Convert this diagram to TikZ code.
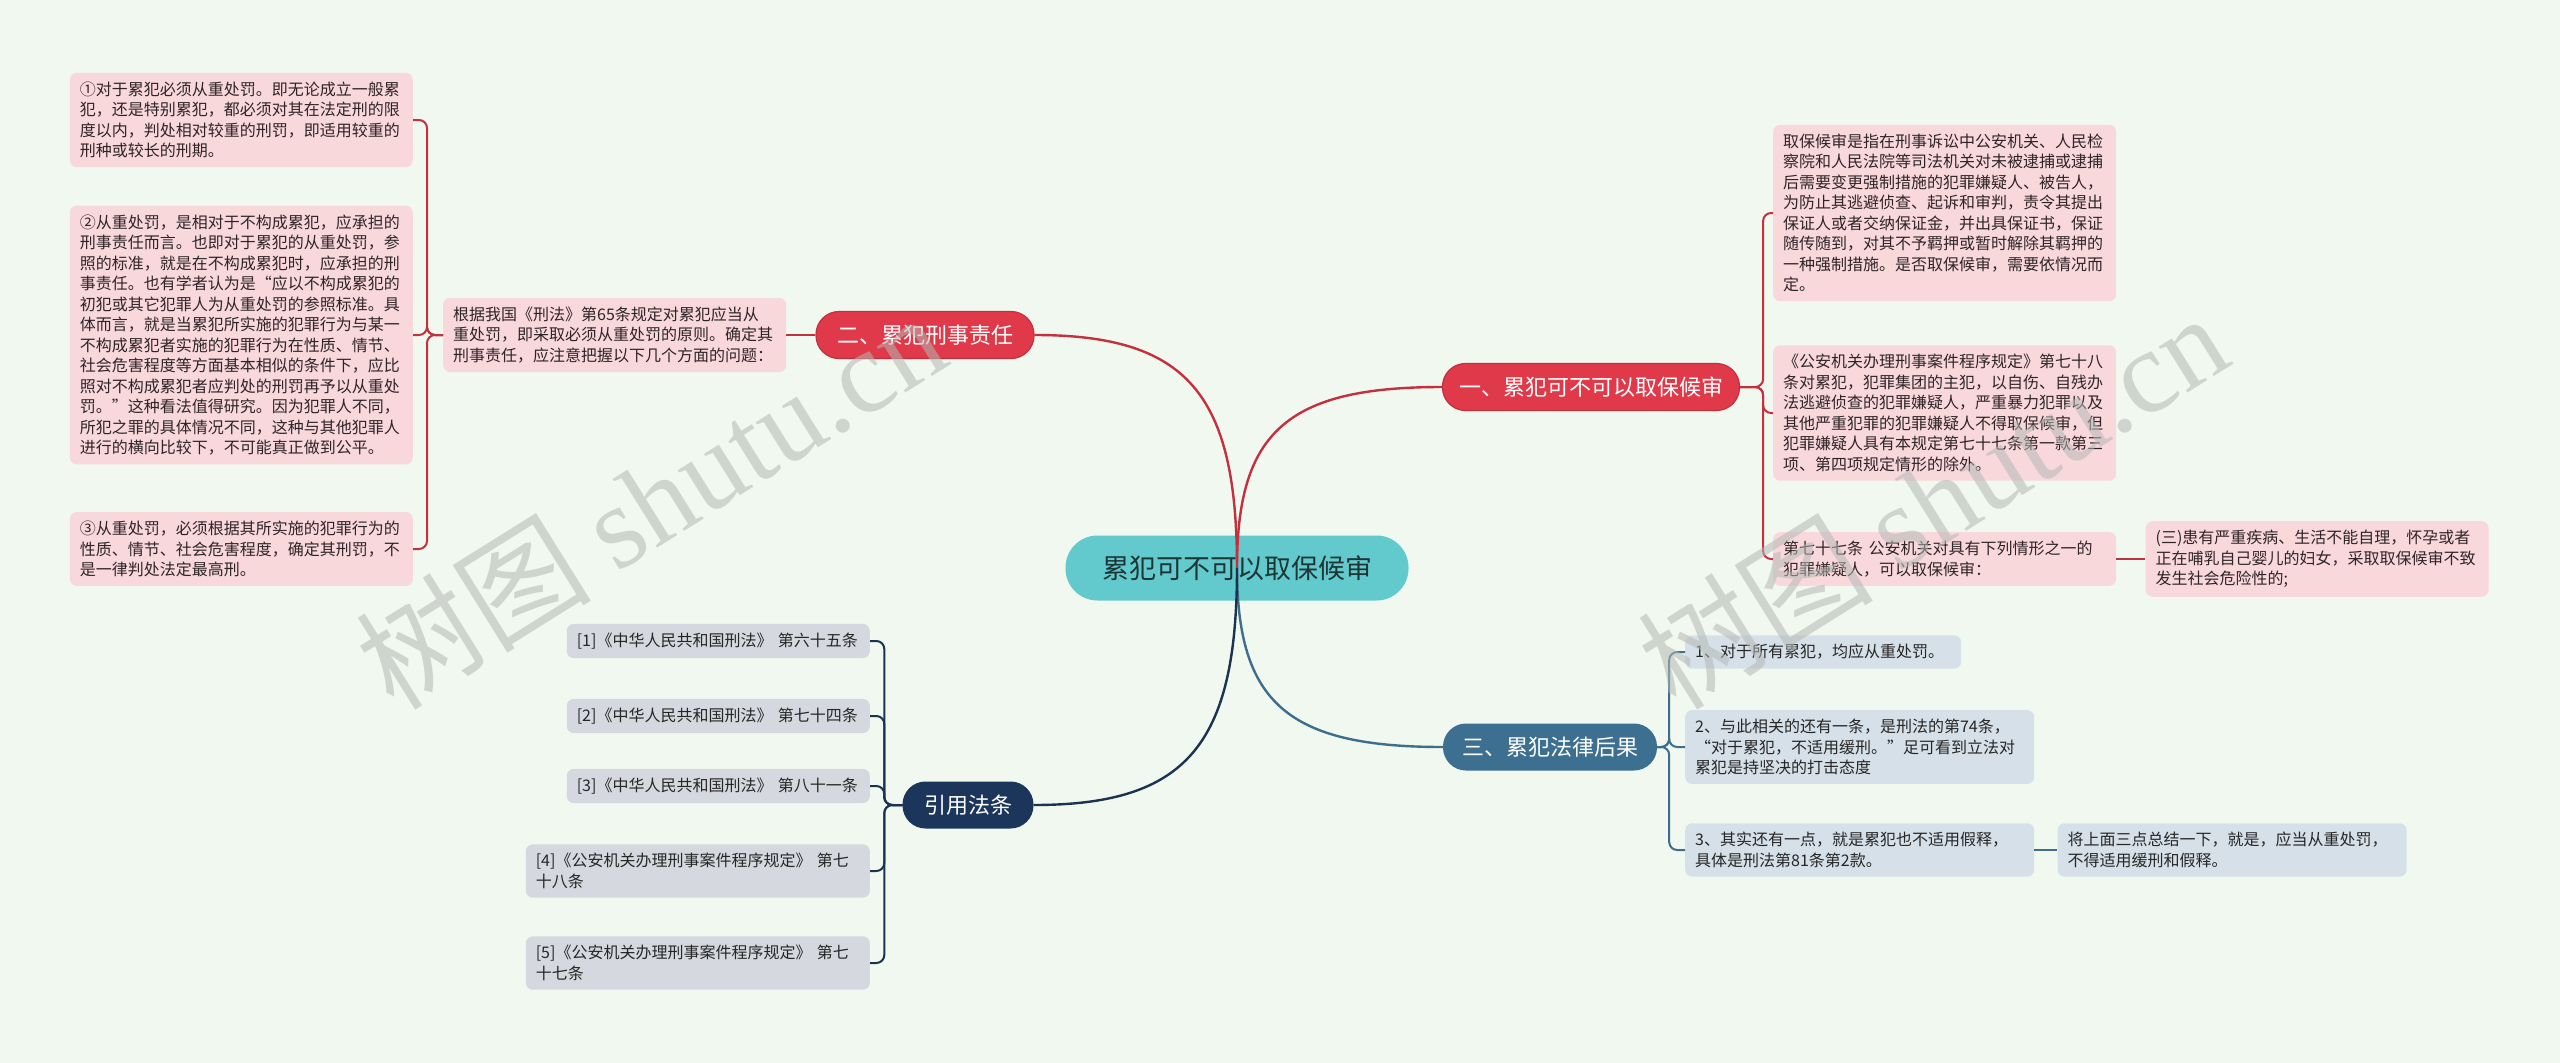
\documentclass[tikz,border=0pt]{standalone}
\usepackage{fontspec}
\setmainfont{Noto Sans CJK SC}
\newfontfamily\wmlatin{Liberation Serif}
\usepackage{xcolor}
\usetikzlibrary{positioning}

\definecolor{bgmint}{HTML}{F0F8EF}
\definecolor{rootteal}{HTML}{62CACC}
\definecolor{roottext}{HTML}{1E3536}
\definecolor{branchred}{HTML}{E03A4A}
\definecolor{branchedge}{HTML}{C42F3D}
\definecolor{linered}{HTML}{C3313F}
\definecolor{boxpink}{HTML}{F9D8DC}
\definecolor{boxtext}{HTML}{2E2426}
\definecolor{branchsteel}{HTML}{3D6F90}
\definecolor{linesteel}{HTML}{3F6E8D}
\definecolor{boxsteel}{HTML}{D6E0E8}
\definecolor{branchnavy}{HTML}{1C365B}
\definecolor{linenavy}{HTML}{1B3251}
\definecolor{boxgray}{HTML}{D5D9DF}
\definecolor{wmgray}{HTML}{B4B9B4}

\begin{document}
\begin{tikzpicture}[x=1pt, y=-1pt,
  topic/.style={rectangle, rounded corners=32pt, fill=rootteal, text=roottext,
                minimum width=343pt, minimum height=65pt,
                font=\fontsize{27}{30}\selectfont},
  branch/.style={rectangle, rounded corners=23pt, minimum height=47pt,
                 text=white, font=\fontsize{22}{24}\selectfont},
  redbranch/.style={branch, fill=branchred, draw=branchedge, line width=1.2pt},
  steelbranch/.style={branch, fill=branchsteel},
  navybranch/.style={branch, fill=branchnavy},
  leaf/.style={rectangle, rounded corners=7pt, align=left, text=boxtext,
               inner xsep=10pt, inner ysep=9pt,
               font=\fontsize{16}{20.5}\selectfont},
  pinkbox/.style={leaf, fill=boxpink, text width=323pt},
  steelbox/.style={leaf, fill=boxsteel, text=black!85, text width=329pt},
  graybox/.style={leaf, fill=boxgray, text=black!85},
  redline/.style={draw=linered, line width=2.4pt},
  steelline/.style={draw=linesteel, line width=2.4pt},
  navyline/.style={draw=linenavy, line width=2.4pt},
  twig/.style={line width=2pt, rounded corners=8pt},
  watermark/.style={text=wmgray, opacity=0.55, rotate=32,
                    font=\fontsize{118}{118}\selectfont},
]
  % Canvas
  \useasboundingbox (0,0) rectangle (2560,1063);
  \fill[bgmint] (0,0) rectangle (2560,1063);

  % Central topic
  \node[topic] (root) at (1237,568) {累犯可不可以取保候审};

  % Branch: criminal liability
  \node[redbranch, minimum width=218pt] (b2) at (925,335) {二、累犯刑事责任};
  \node[pinkbox, left=29pt of b2] (b2t) {根据我国《刑法》第65条规定对累犯应当从\\重处罚，即采取必须从重处罚的原则。确定其\\刑事责任，应注意把握以下几个方面的问题：};
  \node[pinkbox, anchor=east] (l1) at (413,120) {①对于累犯必须从重处罚。即无论成立一般累\\犯，还是特别累犯，都必须对其在法定刑的限\\度以内，判处相对较重的刑罚，即适用较重的\\刑种或较长的刑期。};
  \node[pinkbox, anchor=east] (l2) at (413,335) {②从重处罚，是相对于不构成累犯，应承担的\\刑事责任而言。也即对于累犯的从重处罚，参\\照的标准，就是在不构成累犯时，应承担的刑\\事责任。也有学者认为是“应以不构成累犯的\\初犯或其它犯罪人为从重处罚的参照标准。具\\体而言，就是当累犯所实施的犯罪行为与某一\\不构成累犯者实施的犯罪行为在性质、情节、\\社会危害程度等方面基本相似的条件下，应比\\照对不构成累犯者应判处的刑罚再予以从重处\\罚。”这种看法值得研究。因为犯罪人不同，\\所犯之罪的具体情况不同，这种与其他犯罪人\\进行的横向比较下，不可能真正做到公平。};
  \node[pinkbox, anchor=east] (l3) at (413,549) {③从重处罚，必须根据其所实施的犯罪行为的\\性质、情节、社会危害程度，确定其刑罚，不\\是一律判处法定最高刑。};

  % Branch: bail
  \node[redbranch, minimum width=297pt] (b1) at (1591,387) {一、累犯可不可以取保候审};
  \node[pinkbox, anchor=west] (r1) at (1773,213) {取保候审是指在刑事诉讼中公安机关、人民检\\察院和人民法院等司法机关对未被逮捕或逮捕\\后需要变更强制措施的犯罪嫌疑人、被告人，\\为防止其逃避侦查、起诉和审判，责令其提出\\保证人或者交纳保证金，并出具保证书，保证\\随传随到，对其不予羁押或暂时解除其羁押的\\一种强制措施。是否取保候审，需要依情况而\\定。};
  \node[pinkbox, anchor=west] (r2) at (1773,413) {《公安机关办理刑事案件程序规定》第七十八\\条对累犯，犯罪集团的主犯，以自伤、自残办\\法逃避侦查的犯罪嫌疑人，严重暴力犯罪以及\\其他严重犯罪的犯罪嫌疑人不得取保候审，但\\犯罪嫌疑人具有本规定第七十七条第一款第三\\项、第四项规定情形的除外。};
  \node[pinkbox, anchor=west] (r3) at (1773,559) {第七十七条 公安机关对具有下列情形之一的\\犯罪嫌疑人，可以取保候审：};
  \node[pinkbox, right=29pt of r3] (r3c) {(三)患有严重疾病、生活不能自理，怀孕或者\\正在哺乳自己婴儿的妇女，采取取保候审不致\\发生社会危险性的;};

  % Branch: legal consequences
  \node[steelbranch, minimum width=214pt] (b3) at (1550,747) {三、累犯法律后果};
  \node[steelbox, text width=256pt, anchor=west] (t1) at (1685,652) {1、对于所有累犯，均应从重处罚。};
  \node[steelbox, anchor=west] (t2) at (1685,747) {2、与此相关的还有一条，是刑法的第74条，\\“对于累犯，不适用缓刑。”足可看到立法对\\累犯是持坚决的打击态度};
  \node[steelbox, anchor=west] (t3) at (1685,850) {3、其实还有一点，就是累犯也不适用假释，\\具体是刑法第81条第2款。};
  \node[steelbox, right=23pt of t3] (t4) {将上面三点总结一下，就是，应当从重处罚，\\不得适用缓刑和假释。};

  % Branch: cited articles
  \node[navybranch, minimum width=131pt] (b4) at (968,805) {引用法条};
  \node[graybox, text width=283pt, anchor=east] (c1) at (870,641) {[1]《中华人民共和国刑法》 第六十五条};
  \node[graybox, text width=283pt, anchor=east] (c2) at (870,716) {[2]《中华人民共和国刑法》 第七十四条};
  \node[graybox, text width=283pt, anchor=east] (c3) at (870,786) {[3]《中华人民共和国刑法》 第八十一条};
  \node[graybox, text width=324pt, anchor=east] (c4) at (870,871) {[4]《公安机关办理刑事案件程序规定》 第七\\十八条};
  \node[graybox, text width=324pt, anchor=east] (c5) at (870,963) {[5]《公安机关办理刑事案件程序规定》 第七\\十七条};

  % Connections from the centre
  \draw[redline] (root.center) .. controls +(0,-175) and +(152,0) .. (b2.east);
  \draw[redline] (root.center) .. controls +(0,-136) and +(-155,0) .. (b1.west);
  \draw[steelline] (root.center) .. controls +(0,135) and +(-155,0) .. (b3.west);
  \draw[navyline] (root.center) .. controls +(0,178) and +(152,0) .. (b4.east);

  % Sub-branches
  \draw[redline, line width=2pt] (b2) -- (b2t);
  \foreach \leaf in {l1,l2,l3}
    \draw[twig, draw=linered] (b2t.west) -- ++(-16,0) |- (\leaf.east);
  \foreach \leaf in {r1,r2,r3}
    \draw[twig, draw=linered] (b1.east) -- ++(23,0) |- (\leaf.west);
  \draw[redline, line width=2pt] (r3) -- (r3c);
  \foreach \leaf in {t1,t2,t3}
    \draw[twig, draw=linesteel] (b3.east) -- ++(12,0) |- (\leaf.west);
  \draw[steelline] (t3) -- (t4);
  \foreach \leaf in {c1,c2,c3,c4,c5}
    \draw[twig, draw=linenavy] (b4.west) -- ++(-18,0) |- (\leaf.east);

  % Watermarks
  \node[watermark] (wm1) at (650,500) {树图 {\wmlatin shutu.cn}};
  \node[watermark] (wm2) at (1932,500) {树图 {\wmlatin shutu.cn}};
\end{tikzpicture}
\end{document}
